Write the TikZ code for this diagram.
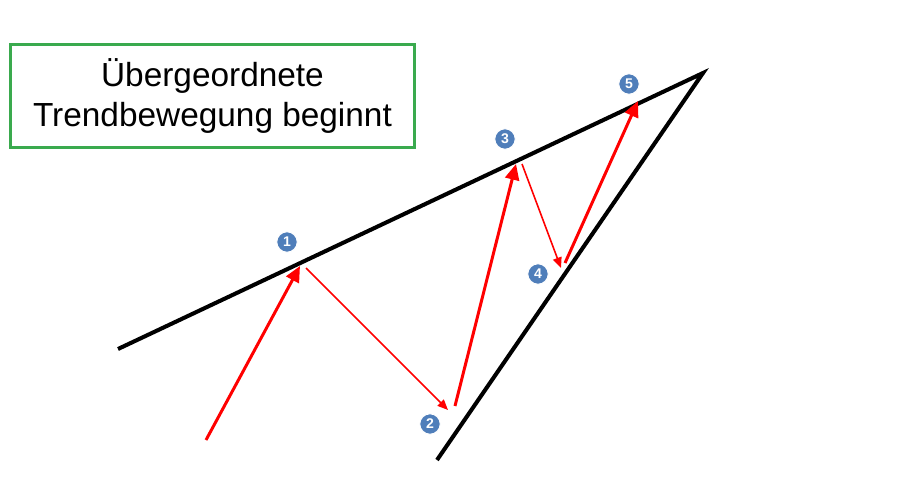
\documentclass[tikz,border=0pt]{standalone}
\usepackage{fontspec}
\setmainfont{Liberation Sans}
\usetikzlibrary{arrows.meta}

\definecolor{frame-green}{RGB}{58,170,78}
\definecolor{ball-blue}{RGB}{79,126,186}

\tikzstyle{title-block} = [draw=frame-green, line width=1.7pt, rectangle, minimum width=8.1cm, minimum height=2.05cm, align=center, font=\fontsize{19}{22.5}\selectfont]
\tikzstyle{trend-line} = [line width=2.3pt, black]
\tikzstyle{wave-up} = [line width=1.7pt, red, -{Triangle[length=9pt, width=8pt]}]
\tikzstyle{wave-down} = [line width=0.9pt, red, -{Triangle[length=6pt, width=5pt]}]
\tikzstyle{point-ball} = [circle, fill=ball-blue, draw=white, line width=0.6pt, minimum size=0.41cm, inner sep=0pt, text=white, font=\fontsize{8}{9}\selectfont\bfseries]

\begin{document}
\begin{tikzpicture}[x=0.02cm, y=-0.02cm]

	\useasboundingbox (0,0) rectangle (900,484);

	\node [title-block] (Title) at (212.5,96) {Übergeordnete\\Trendbewegung beginnt};

	% trend lines
	\coordinate (UpperStart) at (118,349);
	\coordinate (LowerStart) at (437,460);
	\coordinate (Apex) at (703,73);
	\draw [trend-line] (UpperStart) -- (Apex) -- (LowerStart);

	% wave points
	\coordinate (W0) at (206,440);
	\coordinate (W1a) at (300,266);
	\coordinate (W1b) at (306,268);
	\coordinate (W2a) at (448,410);
	\coordinate (W2b) at (455,406);
	\coordinate (W3a) at (516,164);
	\coordinate (W3b) at (522,164);
	\coordinate (W4a) at (561,268);
	\coordinate (W4b) at (565,263);
	\coordinate (W5) at (638,101);

	\draw [wave-up] (W0) -- (W1a);
	\draw [wave-down] (W1b) -- (W2a);
	\draw [wave-up] (W2b) -- (W3a);
	\draw [wave-down] (W3b) -- (W4a);
	\draw [wave-up] (W4b) -- (W5);

	\node [point-ball] (P1) at (287,242) {1};
	\node [point-ball] (P2) at (430,424) {2};
	\node [point-ball] (P3) at (505,139) {3};
	\node [point-ball] (P4) at (538,274) {4};
	\node [point-ball] (P5) at (629,84) {5};

\end{tikzpicture}
\end{document}
